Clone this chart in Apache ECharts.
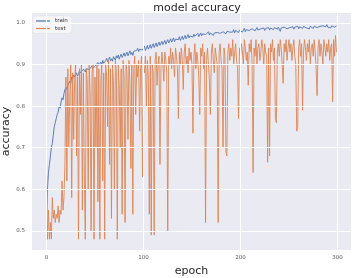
<!DOCTYPE html>
<html>
<head>
<meta charset="utf-8">
<script src="https://cdn.jsdelivr.net/npm/echarts@6/dist/echarts.min.js"></script>
<style>
  html, body { margin: 0; padding: 0; background: #fff; }
  #chart { width: 354px; height: 278px; }
</style>
</head>
<body>
<div id="chart"></div>
<script>
// accuracy per epoch
const trainAcc = [
  0.54, 0.60, 0.64, 0.66, 0.68, 0.70, 0.71, 0.73, 0.75, 0.76,
  0.77, 0.78, 0.785, 0.80, 0.795, 0.81, 0.82, 0.815, 0.83, 0.84,
  0.845, 0.84, 0.85, 0.855, 0.86, 0.855, 0.87, 0.865, 0.875, 0.87,
  0.875, 0.88, 0.872, 0.878, 0.885, 0.88, 0.883, 0.876, 0.889, 0.885,
  0.882, 0.89, 0.886, 0.894, 0.888, 0.892, 0.885, 0.897, 0.891, 0.888,
  0.896, 0.90, 0.893, 0.905, 0.898, 0.894, 0.906, 0.90, 0.91, 0.903,
  0.90, 0.91, 0.915, 0.907, 0.912, 0.918, 0.909, 0.914, 0.908, 0.919,
  0.915, 0.911, 0.921, 0.916, 0.923, 0.913, 0.92, 0.925, 0.917, 0.922,
  0.928, 0.92, 0.924, 0.93, 0.921, 0.927, 0.933, 0.924, 0.929, 0.922,
  0.932, 0.936, 0.928, 0.934, 0.939, 0.931, 0.937, 0.933, 0.941, 0.935,
  0.938, 0.944, 0.934, 0.94, 0.946, 0.937, 0.942, 0.948, 0.939, 0.945,
  0.95, 0.941, 0.947, 0.952, 0.943, 0.949, 0.954, 0.946, 0.951, 0.956,
  0.948, 0.953, 0.958, 0.949, 0.955, 0.96, 0.952, 0.957, 0.962, 0.954,
  0.959, 0.964, 0.955, 0.961, 0.957, 0.965, 0.96, 0.967, 0.958, 0.963,
  0.968, 0.96, 0.965, 0.97, 0.962, 0.967, 0.972, 0.964, 0.969, 0.965,
  0.971, 0.966, 0.973, 0.968, 0.964, 0.972, 0.975, 0.967, 0.971, 0.976,
  0.969, 0.974, 0.97, 0.977, 0.972, 0.968, 0.975, 0.979, 0.971, 0.976,
  0.973, 0.978, 0.97, 0.976, 0.98, 0.972, 0.977, 0.974, 0.981, 0.975,
  0.978, 0.972, 0.979, 0.976, 0.982, 0.974, 0.98, 0.977, 0.983, 0.978,
  0.975, 0.981, 0.978, 0.984, 0.976, 0.982, 0.979, 0.985, 0.977, 0.983,
  0.98, 0.986, 0.978, 0.982, 0.987, 0.979, 0.984, 0.981, 0.988, 0.982,
  0.985, 0.979, 0.986, 0.982, 0.988, 0.981, 0.985, 0.989, 0.983, 0.987,
  0.981, 0.986, 0.99, 0.984, 0.988, 0.982, 0.987, 0.991, 0.985, 0.989,
  0.983, 0.988, 0.986, 0.991, 0.984, 0.989, 0.987, 0.992, 0.985, 0.99,
  0.986, 0.98, 0.988, 0.991, 0.985, 0.99, 0.987, 0.993, 0.986, 0.99,
  0.984, 0.989, 0.992, 0.987, 0.991, 0.985, 0.99, 0.994, 0.988, 0.992,
  0.986, 0.991, 0.988, 0.993, 0.987, 0.992, 0.989, 0.995, 0.988, 0.992,
  0.99, 0.986, 0.992, 0.989, 0.994, 0.987, 0.992, 0.99, 0.995, 0.989,
  0.993, 0.988, 0.992, 0.996, 0.99, 0.993, 0.989, 0.994, 0.991, 0.996,
  0.99, 0.994, 0.992, 0.988, 0.993, 0.991, 0.995, 0.99, 0.992, 0.993
]

const testAcc = [
  0.68, 0.48, 0.55, 0.48, 0.52, 0.48, 0.58, 0.53, 0.55, 0.52,
  0.54, 0.53, 0.56, 0.52, 0.55, 0.54, 0.62, 0.55, 0.58, 0.66,
  0.87, 0.62, 0.89, 0.70, 0.82, 0.90, 0.58, 0.88, 0.72, 0.86,
  0.90, 0.68, 0.87, 0.48, 0.89, 0.78, 0.90, 0.55, 0.88, 0.64,
  0.48, 0.89, 0.86, 0.60, 0.90, 0.83, 0.50, 0.88, 0.90, 0.48,
  0.87, 0.70, 0.90, 0.57, 0.89, 0.48, 0.86, 0.90, 0.62, 0.88,
  0.48, 0.90, 0.87, 0.75, 0.91, 0.66, 0.89, 0.53, 0.90, 0.86,
  0.60, 0.91, 0.88, 0.48, 0.90, 0.85, 0.70, 0.89, 0.54, 0.91,
  0.87, 0.52, 0.90, 0.88, 0.72, 0.91, 0.86, 0.65, 0.90, 0.54,
  0.89, 0.92, 0.78, 0.90, 0.87, 0.91, 0.74, 0.89, 0.92, 0.63,
  0.90, 0.88, 0.92, 0.80, 0.91, 0.87, 0.54, 0.92, 0.49, 0.90,
  0.88, 0.49, 0.91, 0.93, 0.85, 0.90, 0.92, 0.66, 0.89, 0.93,
  0.90, 0.86, 0.93, 0.91, 0.88, 0.50, 0.92, 0.90, 0.94, 0.89,
  0.93, 0.91, 0.87, 0.94, 0.92, 0.89, 0.77, 0.93, 0.90, 0.94,
  0.91, 0.84, 0.93, 0.95, 0.90, 0.92, 0.88, 0.94, 0.91, 0.93,
  0.90, 0.735, 0.92, 0.95, 0.89, 0.93, 0.91, 0.87, 0.78, 0.94,
  0.92, 0.95, 0.89, 0.93, 0.52, 0.91, 0.94, 0.90, 0.86, 0.78,
  0.93, 0.95, 0.91, 0.88, 0.94, 0.92, 0.90, 0.52, 0.93, 0.95,
  0.91, 0.89, 0.70, 0.94, 0.92, 0.69, 0.68, 0.93, 0.95, 0.91,
  0.94, 0.92, 0.96, 0.90, 0.93, 0.95, 0.91, 0.89, 0.77, 0.94,
  0.92, 0.95, 0.93, 0.90, 0.96, 0.94, 0.91, 0.93, 0.85, 0.95,
  0.93, 0.96, 0.90, 0.64, 0.94, 0.92, 0.96, 0.90, 0.94, 0.95,
  0.91, 0.93, 0.96, 0.94, 0.90, 0.95, 0.93, 0.92, 0.665, 0.94,
  0.68, 0.95, 0.93, 0.96, 0.91, 0.94, 0.77, 0.76, 0.93, 0.95,
  0.92, 0.96, 0.94, 0.90, 0.855, 0.95, 0.93, 0.96, 0.91, 0.94,
  0.96, 0.93, 0.95, 0.91, 0.94, 0.96, 0.92, 0.90, 0.74, 0.75,
  0.94, 0.96, 0.92, 0.95, 0.79, 0.93, 0.96, 0.94, 0.91, 0.95,
  0.93, 0.96, 0.90, 0.94, 0.95, 0.92, 0.96, 0.93, 0.89, 0.825,
  0.94, 0.96, 0.92, 0.95, 0.93, 0.90, 0.96, 0.94, 0.92, 0.95,
  0.93, 0.96, 0.91, 0.94, 0.95, 0.81, 0.96, 0.92, 0.97, 0.93
]

const xTicks = [0, 100, 200, 300]
const yTicks = [0.5, 0.6, 0.7, 0.8, 0.9, 1.0]

const chart = echarts.init(document.getElementById('chart'))

const toPairs = (arr) => arr.map((v, i) => [i, v])
const font = 'DejaVu Sans'
const tickText = { fontFamily: font, fontSize: 5.5, color: '#555' }

const option = {
  animation: false,
  backgroundColor: '#fff',
  title: {
    text: 'model accuracy',
    left: 192,
    top: -2,
    textAlign: 'center',
    textStyle: { fontFamily: font, fontSize: 11, fontWeight: 'normal', color: '#262626' }
  },
  legend: {
    data: ['train', 'test'],
    orient: 'vertical',
    left: 33,
    top: 16,
    icon: 'rect',
    itemWidth: 14,
    itemHeight: 1.2,
    itemGap: 1.5,
    padding: [2, 4, 2, 3],
    backgroundColor: 'rgba(255,255,255,0.55)',
    borderColor: '#dcdce4',
    borderWidth: 0.5,
    borderRadius: 2,
    textStyle: { fontFamily: font, fontSize: 5.5, color: '#333' }
  },
  grid: {
    left: 32, right: 3, top: 13, bottom: 28,
    containLabel: false,
    outerBoundsMode: 'none',
    show: true, backgroundColor: '#EAEAF2', borderWidth: 0
  },
  xAxis: {
    type: 'value',
    min: -14.95,
    max: 313.95,
    name: 'epoch',
    nameLocation: 'middle',
    nameGap: 16,
    nameTextStyle: { fontFamily: font, fontSize: 11, color: '#262626' },
    axisLine: { show: false },
    axisTick: { show: false },
    splitLine: { show: false },
    axisLabel: Object.assign({ customValues: xTicks, margin: 5 }, tickText)
  },
  yAxis: {
    type: 'value',
    min: 0.454,
    max: 1.024,
    name: 'accuracy',
    nameLocation: 'middle',
    nameGap: 20,
    nameTextStyle: { fontFamily: font, fontSize: 11, color: '#262626' },
    axisLine: { show: false },
    axisTick: { show: false },
    splitLine: { show: false },
    axisLabel: { show: false }
  },
  series: [
    {
      // white grid lines, y tick labels sit on their left ends
      type: 'line',
      data: [],
      silent: true,
      z: 1,
      markLine: {
        silent: true,
        symbol: 'none',
        lineStyle: { color: '#fff', width: 1, type: 'solid' },
        data: xTicks.map((x) => ({ xAxis: x, label: { show: false } }))
          .concat(yTicks.map((y) => ({
            yAxis: y,
            label: Object.assign({
              show: true,
              position: 'start',
              distance: 7,
              formatter: y.toFixed(1)
            }, tickText)
          })))
      }
    },
    {
      name: 'train',
      type: 'line',
      data: toPairs(trainAcc),
      showSymbol: false,
      z: 2,
      color: '#4C72B0',
      lineStyle: { width: 0.9, color: '#4C72B0' }
    },
    {
      name: 'test',
      type: 'line',
      data: toPairs(testAcc),
      showSymbol: false,
      z: 3,
      color: '#DD8452',
      lineStyle: { width: 0.9, color: '#DD8452' }
    }
  ]
}

chart.setOption(option)
</script>
</body>
</html>
